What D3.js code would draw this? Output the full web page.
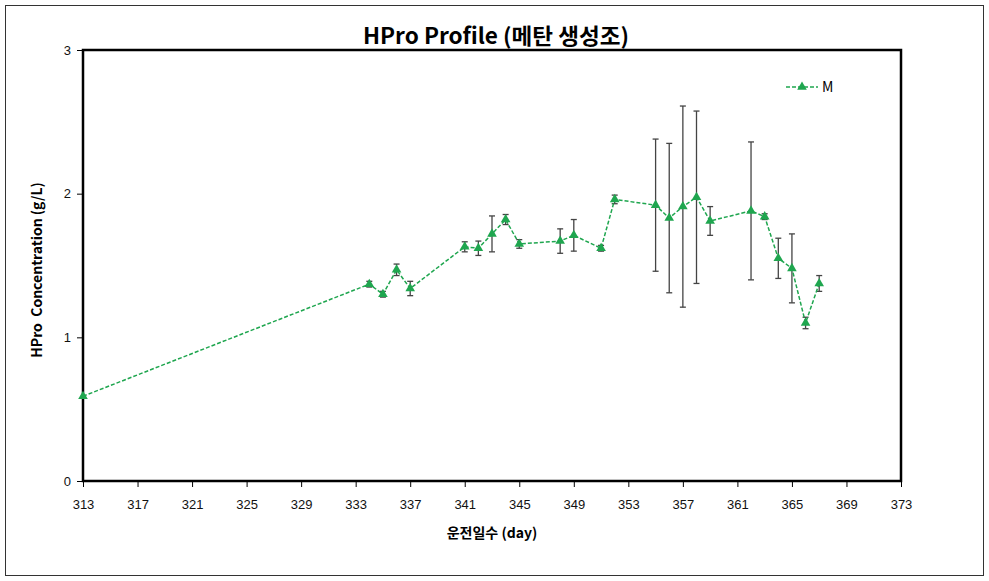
<!DOCTYPE html>
<html><head><meta charset="utf-8">
<script src="https://cdn.jsdelivr.net/npm/d3@7"></script>
<style>body{margin:0;background:#fff;} svg{display:block;font-family:"Noto Sans CJK KR","Noto Sans",sans-serif;}</style>
</head><body><svg id="c" width="989" height="581"></svg>
<script>
const days = [313,334,335,336,337,341,342,343,344,345,348,349,351,352,355,356,357,358,359,362,363,364,365,366,367];
const values = [0.59,1.37,1.30,1.47,1.34,1.63,1.62,1.72,1.82,1.65,1.67,1.71,1.62,1.96,1.92,1.83,1.91,1.975,1.81,1.88,1.84,1.55,1.48,1.10,1.375];
const errors = [0,0.02,0.02,0.04,0.05,0.035,0.05,0.125,0.035,0.03,0.085,0.11,0.02,0.03,0.46,0.52,0.70,0.60,0.10,0.48,0.02,0.14,0.24,0.04,0.055];
const xTicks = [313,317,321,325,329,333,337,341,345,349,353,357,361,365,369,373];
const yTicks = [0,1,2,3];
const seriesName = "M";

const svg = d3.select("#c");
const green = "#1fa64f";
svg.append("rect").attr("x",5.5).attr("y",5.5).attr("width",978).attr("height",570)
  .attr("fill","none").attr("stroke","#333").attr("stroke-width",1);

const L=83,R=901,T=50,B=481;
const x = d3.scaleLinear().domain([313,373]).range([L,R]);
const y = d3.scaleLinear().domain([0,3]).range([B,T]);

svg.append("rect").attr("x",L).attr("y",T).attr("width",R-L).attr("height",B-T)
  .attr("fill","none").attr("stroke","#000").attr("stroke-width",2.5);

const xa = svg.append("g").attr("transform",`translate(0,${B})`)
  .call(d3.axisBottom(x).tickValues(xTicks).tickSize(6).tickFormat(d3.format("d")));
xa.select(".domain").remove();
xa.selectAll("line").attr("stroke","#000");
xa.selectAll("text").attr("font-size",13).attr("fill","#111").attr("dy","1.45em");

const ya = svg.append("g").attr("transform",`translate(${L},0)`)
  .call(d3.axisLeft(y).tickValues(yTicks).tickSize(6).tickFormat(d3.format("d")));
ya.select(".domain").remove();
ya.selectAll("line").attr("stroke","#000");
ya.selectAll("text").attr("font-size",13).attr("fill","#111").attr("x",-12);

svg.append("text").attr("x",496).attr("y",44).attr("text-anchor","middle")
  .attr("font-size",22).attr("font-weight","bold").attr("textLength",266).attr("lengthAdjust","spacingAndGlyphs")
  .text("HPro Profile (메탄 생성조)");
svg.append("text").attr("transform","translate(42,270) rotate(-90)").attr("text-anchor","middle")
  .attr("font-size",14).attr("font-weight","bold").attr("xml:space","preserve").style("white-space","pre")
  .text("HPro  Concentration (g/L)");
svg.append("text").attr("x",492).attr("y",538).attr("text-anchor","middle")
  .attr("font-size",14).attr("font-weight","bold").text("운전일수 (day)");

const data = days.map((d,i)=>({d, v:values[i], e:errors[i]}));

const eb = svg.append("g").attr("stroke","#444").attr("stroke-width",1.3);
data.filter(p=>p.e>0).forEach(p=>{
  const cx=x(p.d);
  eb.append("line").attr("x1",cx).attr("x2",cx).attr("y1",y(p.v+p.e)).attr("y2",y(p.v-p.e));
  eb.append("line").attr("x1",cx-3).attr("x2",cx+3).attr("y1",y(p.v+p.e)).attr("y2",y(p.v+p.e));
  eb.append("line").attr("x1",cx-3).attr("x2",cx+3).attr("y1",y(p.v-p.e)).attr("y2",y(p.v-p.e));
});

svg.append("path").datum(data).attr("fill","none").attr("stroke",green).attr("stroke-width",1.5)
  .attr("stroke-dasharray","4,2").attr("d",d3.line().x(p=>x(p.d)).y(p=>y(p.v)));

const tri = d3.symbol().type(d3.symbolTriangle).size(40);
svg.append("g").selectAll("path").data(data).join("path")
  .attr("d",tri).attr("transform",p=>`translate(${x(p.d)},${y(p.v)})`).attr("fill",green);

const lg = svg.append("g");
lg.append("line").attr("x1",786).attr("x2",818).attr("y1",87).attr("y2",87)
  .attr("stroke",green).attr("stroke-width",1.5).attr("stroke-dasharray","4,2");
lg.append("path").attr("d",tri).attr("transform","translate(802,87)").attr("fill",green);
lg.append("text").attr("x",822).attr("y",92).attr("font-size",14).text(seriesName);
</script></body></html>
